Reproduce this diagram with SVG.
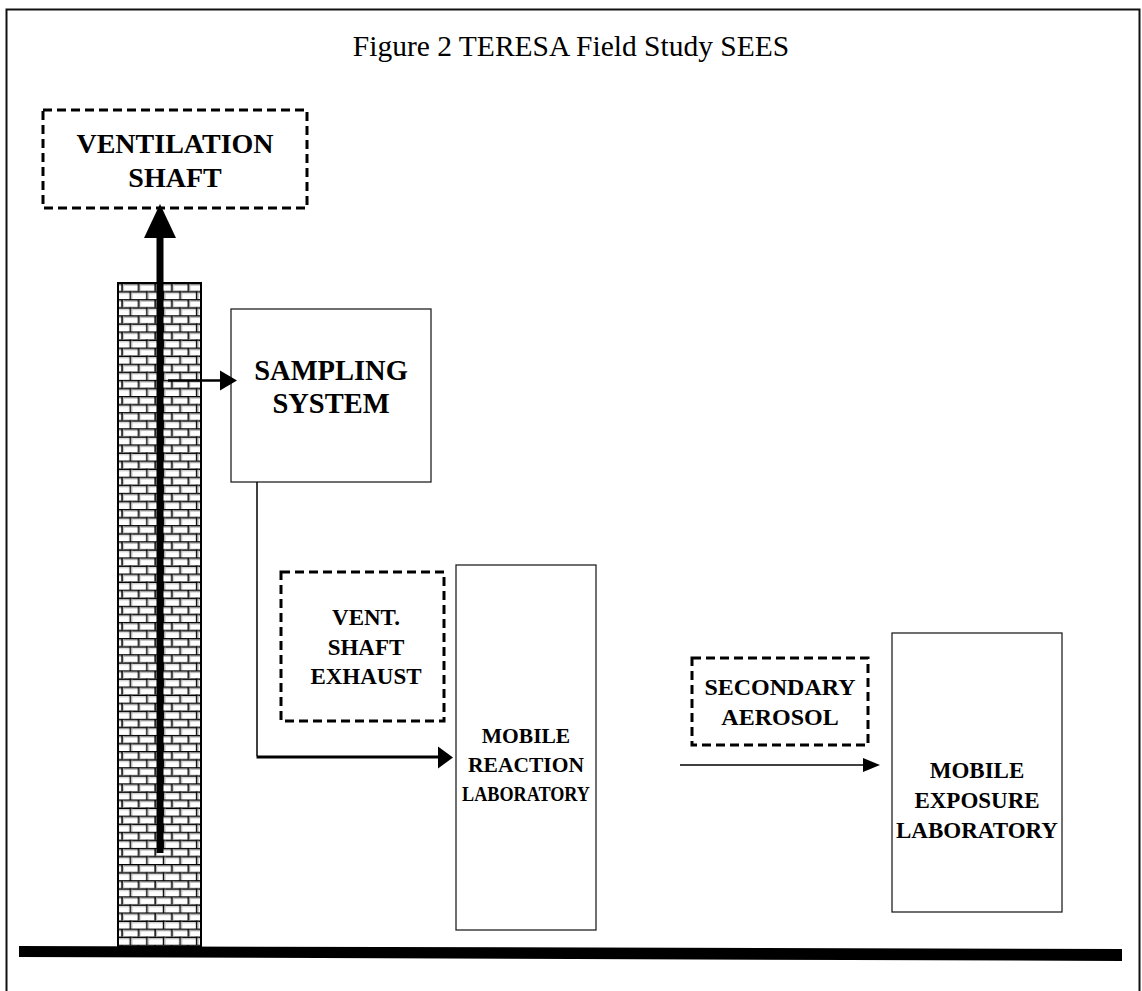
<svg xmlns="http://www.w3.org/2000/svg" width="1142" height="991" viewBox="0 0 1142 991">
<style>
.t{font-family:"Liberation Serif","Times New Roman",serif;font-weight:bold;fill:#000;text-anchor:middle}
.title{font-family:"Liberation Serif","Times New Roman",serif;fill:#000;text-anchor:middle;font-size:29.5px}
.box{fill:#fff;stroke:#222;stroke-width:1.3}
.dash{fill:none;stroke:#000;stroke-width:3;stroke-dasharray:9 5}
</style>
<defs>
<pattern id="brick" patternUnits="userSpaceOnUse" x="118" y="283" width="16.6" height="16.14">
<rect width="16.6" height="16.14" fill="#fff"/>
<line x1="0" y1="0.7" x2="16.6" y2="0.7" stroke="#000" stroke-width="1.5"/>
<line x1="0" y1="8.77" x2="16.6" y2="8.77" stroke="#000" stroke-width="1.5"/>
<line x1="0" y1="2.2" x2="16.6" y2="2.2" stroke="#bbb" stroke-width="1"/>
<line x1="0" y1="10.27" x2="16.6" y2="10.27" stroke="#bbb" stroke-width="1"/>
<line x1="4" y1="0" x2="4" y2="8.07" stroke="#000" stroke-width="1.5"/>
<line x1="5.5" y1="1" x2="5.5" y2="8.07" stroke="#bbb" stroke-width="1"/>
<line x1="12.3" y1="8.07" x2="12.3" y2="16.14" stroke="#000" stroke-width="1.5"/>
<line x1="13.8" y1="9" x2="13.8" y2="16.14" stroke="#bbb" stroke-width="1"/>
</pattern>
</defs>
<rect id="frame" x="6.5" y="9.5" width="1133" height="990" fill="#fff" stroke="#111" stroke-width="2"/>
<text class="title" x="571" y="56">Figure 2 TERESA Field Study SEES</text>

<g id="tower">
<rect x="118" y="283" width="83" height="664" fill="url(#brick)" stroke="#000" stroke-width="2"/>
</g>

<g id="ground">
<polygon points="19,946 1122,949 1122,961 19,957" fill="#000"/>
</g>

<g id="ventilation-shaft">
<rect class="dash" x="43" y="110" width="264" height="98"/>
<text class="t" x="175" y="153" font-size="28">VENTILATION</text>
<text class="t" x="175" y="187" font-size="28">SHAFT</text>
</g>

<g id="sampling-system">
<rect class="box" x="231" y="309" width="200" height="173"/>
<text class="t" x="331" y="380" font-size="28.5">SAMPLING</text>
<text class="t" x="331" y="413" font-size="28.5">SYSTEM</text>
</g>

<g id="vent-shaft-exhaust">
<rect class="dash" x="281" y="572" width="163" height="149"/>
<text class="t" x="366" y="625" font-size="23">VENT.</text>
<text class="t" x="366" y="655" font-size="23">SHAFT</text>
<text class="t" x="366" y="684" font-size="23">EXHAUST</text>
</g>

<g id="mobile-reaction-laboratory">
<rect class="box" x="456" y="565" width="140" height="365"/>
<text class="t" x="526" y="743" font-size="21.5">MOBILE</text>
<text class="t" x="526" y="772" font-size="21.5">REACTION</text>
<text class="t" x="526" y="801" font-size="22" textLength="128" lengthAdjust="spacingAndGlyphs">LABORATORY</text>
</g>

<g id="secondary-aerosol">
<rect class="dash" x="692" y="658" width="176" height="87"/>
<text class="t" x="780" y="695" font-size="24">SECONDARY</text>
<text class="t" x="780" y="725" font-size="24">AEROSOL</text>
</g>

<g id="mobile-exposure-laboratory">
<rect class="box" x="892" y="633" width="170" height="279"/>
<text class="t" x="977" y="778" font-size="23">MOBILE</text>
<text class="t" x="977" y="808" font-size="23">EXPOSURE</text>
<text class="t" x="977" y="838" font-size="23">LABORATORY</text>
</g>

<g id="connectors">
<line x1="160" y1="853" x2="160" y2="236" stroke="#000" stroke-width="7"/>
<polygon points="160,204 176,238 144,238" fill="#000"/>
<line x1="168" y1="380.5" x2="222" y2="380.5" stroke="#000" stroke-width="2.5"/>
<polygon points="237,380.5 220,370.5 220,390.5" fill="#000"/>
<polyline points="257,482 257,756" fill="none" stroke="#000" stroke-width="1.5"/>
<line x1="256.5" y1="757" x2="440" y2="757" stroke="#000" stroke-width="3"/>
<polygon points="453,757.5 438,746.5 438,768.5" fill="#000"/>
<line x1="680" y1="765" x2="865" y2="765" stroke="#000" stroke-width="1.5"/>
<polygon points="880,765 863,758 863,772" fill="#000"/>
</g>
</svg>
